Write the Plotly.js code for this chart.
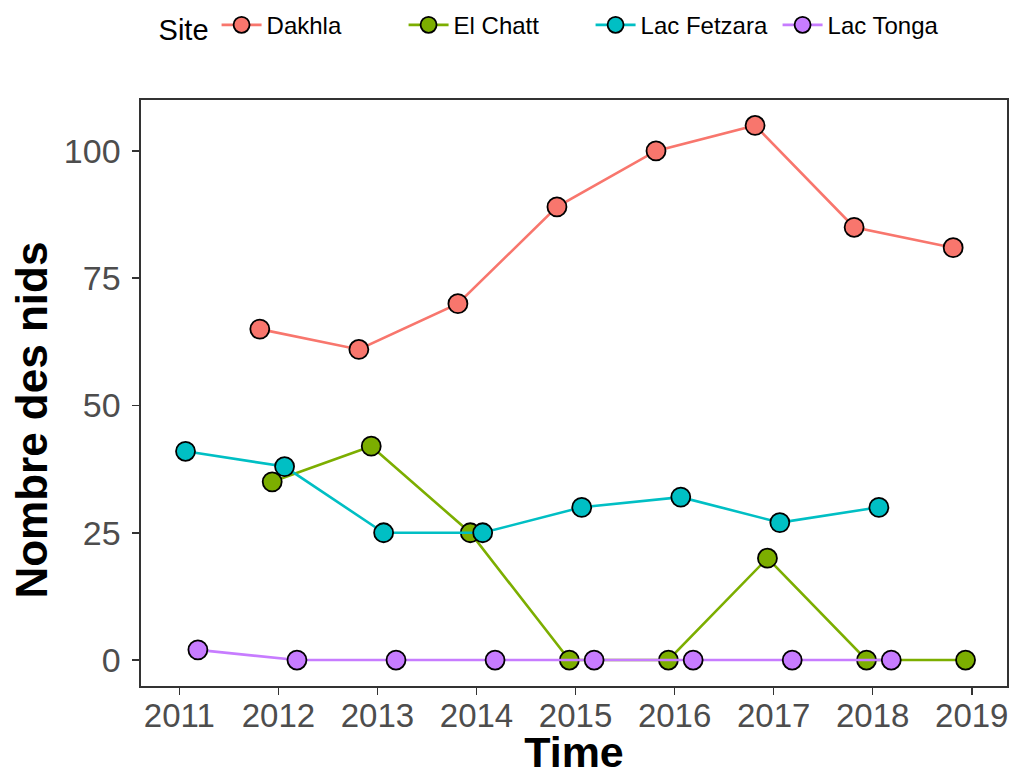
<!DOCTYPE html>
<html>
<head>
<meta charset="utf-8">
<script src="https://cdn.plot.ly/plotly-3.0.1.min.js"></script>
<style>html,body{margin:0;padding:0;background:#fff;}#chart{width:1015px;height:776px;}</style>
</head>
<body>
<div id="chart"></div>
<script>
var sites = ["Dakhla", "El Chatt", "Lac Fetzara", "Lac Tonga"];
var colors = ["#F8766D", "#7CAE00", "#00BFC4", "#C77CFF"];
var yearsDakhla = [2012, 2013, 2014, 2015, 2016, 2017, 2018, 2019];
var nidsDakhla = [65, 61, 70, 89, 100, 105, 85, 81];
var yearsElChatt = [2012, 2013, 2014, 2015, 2016, 2017, 2018, 2019];
var nidsElChatt = [35, 42, 25, 0, 0, 20, 0, 0];
var yearsFetzara = [2011, 2012, 2013, 2014, 2015, 2016, 2017, 2018];
var nidsFetzara = [41, 38, 25, 25, 30, 32, 27, 30];
var yearsTonga = [2011, 2012, 2013, 2014, 2015, 2016, 2017, 2018];
var nidsTonga = [2, 0, 0, 0, 0, 0, 0, 0];
var xTicks = [2011, 2012, 2013, 2014, 2015, 2016, 2017, 2018, 2019];
var yTicks = [0, 25, 50, 75, 100];
var xTitle = "Time";
var yTitle = "Nombre des nids";

var xs = [yearsDakhla, yearsElChatt, yearsFetzara, yearsTonga];
var ys = [nidsDakhla, nidsElChatt, nidsFetzara, nidsTonga];

var traces = sites.map(function (s, i) {
  return {
    type: "scatter",
    mode: "lines+markers",
    name: s,
    x: xs[i],
    y: ys[i],
    offsetgroup: s,
    line: {color: colors[i], width: 2.6},
    marker: {color: colors[i], size: 19, line: {color: "#000", width: 1.8}},
    cliponaxis: false
  };
});

var font = "Liberation Sans, Arial, sans-serif";
var layout = {
  width: 1015,
  height: 776,
  margin: {l: 141, r: 8, t: 100, b: 90, autoexpand: false},
  paper_bgcolor: "#fff",
  plot_bgcolor: "#fff",
  scattermode: "group",
  scattergap: 0.5,
  showlegend: true,
  font: {family: font, color: "#000"},
  legend: {
    orientation: "h",
    x: 0.018, xanchor: "left",
    y: 1.125, yanchor: "middle",
    title: {text: "Site", side: "left", font: {size: 29, color: "#000"}},
    font: {size: 24, color: "#000"},
    itemwidth: 40,
    entrywidth: 132,
    entrywidthmode: "pixels"
  },
  xaxis: {
    range: [2010.613, 2019.356],
    tickvals: xTicks,
    ticktext: xTicks.map(String),
    showgrid: false, zeroline: false,
    showline: true, mirror: true, linecolor: "#333", linewidth: 1.6,
    ticks: "outside", ticklen: 7, tickwidth: 1.6, tickcolor: "#333",
    ticklabelstandoff: -7,
    tickfont: {size: 33, color: "#4d4d4d"},
    title: {text: "<b>" + xTitle + "</b>", font: {size: 43, color: "#000"}, standoff: 15}
  },
  yaxis: {
    range: [-5.1, 110.0],
    tickvals: yTicks,
    ticktext: yTicks.map(String),
    showgrid: false, zeroline: false,
    showline: true, mirror: true, linecolor: "#333", linewidth: 1.6,
    ticks: "outside", ticklen: 7, tickwidth: 1.6, tickcolor: "#333",
    ticklabelstandoff: 5,
    tickfont: {size: 34, color: "#4d4d4d"}
  },
  annotations: [{
    text: "<b>" + yTitle + "</b>",
    textangle: -90,
    xref: "paper", yref: "paper",
    x: -0.1275, y: 0.4539,
    xanchor: "center", yanchor: "middle",
    showarrow: false,
    font: {size: 44, color: "#000", family: font}
  }]
};

Plotly.newPlot("chart", traces, layout, {displayModeBar: false, staticPlot: true});
</script>
</body>
</html>
